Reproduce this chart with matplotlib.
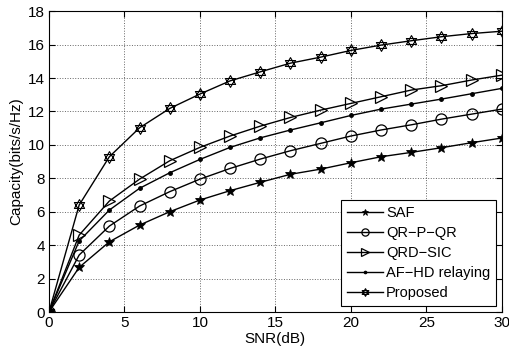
import numpy as np
import matplotlib
matplotlib.use('Agg')
import matplotlib.pyplot as plt
from matplotlib.path import Path

plt.rcParams['font.family'] = ['Liberation Sans', 'DejaVu Sans']

snr = [0, 2, 4, 6, 8, 10, 12, 14, 16, 18, 20, 22, 24, 26, 28, 30]
saf = [0, 2.67, 4.2, 5.2, 6.0, 6.7, 7.26, 7.76, 8.24, 8.55, 8.93, 9.29, 9.55, 9.83, 10.13, 10.41]
qrpqr = [0, 3.41, 5.14, 6.34, 7.2, 7.95, 8.59, 9.15, 9.65, 10.09, 10.53, 10.89, 11.2, 11.54, 11.84, 12.14]
qrdsic = [0, 4.6, 6.64, 7.95, 9.05, 9.85, 10.53, 11.12, 11.64, 12.08, 12.48, 12.88, 13.28, 13.54, 13.88, 14.17]
afhd = [0, 4.25, 6.1, 7.4, 8.33, 9.13, 9.85, 10.42, 10.89, 11.32, 11.76, 12.14, 12.44, 12.74, 13.06, 13.38]
proposed = [0, 6.4, 9.29, 11.02, 12.18, 13.04, 13.83, 14.37, 14.89, 15.25, 15.65, 15.97, 16.23, 16.47, 16.66, 16.8]

labels = ['SAF', 'QR\u2212P\u2212QR', 'QRD\u2212SIC', 'AF\u2212HD relaying', 'Proposed']

# hexagram marker: two overlapping triangles
ang_up = np.deg2rad([90, 210, 330, 90])
ang_dn = np.deg2rad([270, 30, 150, 270])
verts = list(zip(np.cos(ang_up), np.sin(ang_up))) + list(zip(np.cos(ang_dn), np.sin(ang_dn)))
codes = [Path.MOVETO, Path.LINETO, Path.LINETO, Path.CLOSEPOLY] * 2
hexagram = Path(verts, codes)

fig = plt.figure(figsize=(5.1, 3.49), dpi=100)
ax = fig.add_axes([0.096, 0.106, 0.888, 0.862])

kw = dict(color='black', lw=1.0, mfc='none', mec='black')
ax.plot(snr, saf, marker='*', ms=7, mew=0.6, color='black', mfc='black', lw=1.0, label=labels[0])
ax.plot(snr, qrpqr, marker='o', ms=8, mew=0.9, label=labels[1], **kw)
ax.plot(snr, qrdsic, marker='>', ms=9, mew=0.9, label=labels[2], **kw)
ax.plot(snr, afhd, marker='.', ms=5, color='black', lw=1.0, label=labels[3])
ax.plot(snr, proposed, marker=hexagram, ms=8.5, mew=0.8, label=labels[4], **kw)

ax.set_xlim(0, 30)
ax.set_ylim(0, 18)
ax.set_xticks([0, 5, 10, 15, 20, 25, 30])
ax.set_yticks(range(0, 19, 2))
ax.tick_params(direction='in', labelsize=11, length=4, top=True, right=True, pad=3)
ax.grid(True, linestyle=':', color='black', lw=0.7, alpha=0.6)
ax.set_xlabel('SNR(dB)', fontsize=11, labelpad=1)
ax.set_ylabel('Capacity(bits/s/Hz)', fontsize=11, labelpad=3)

leg = ax.legend(loc='lower right', fontsize=10.5, handlelength=2.5, fancybox=False,
                edgecolor='black', framealpha=1, borderaxespad=0.4,
                labelspacing=0.42, handletextpad=0.2, borderpad=0.4, markerscale=0.65)
leg.get_frame().set_linewidth(0.8)

fig.savefig('out.png', dpi=100)
